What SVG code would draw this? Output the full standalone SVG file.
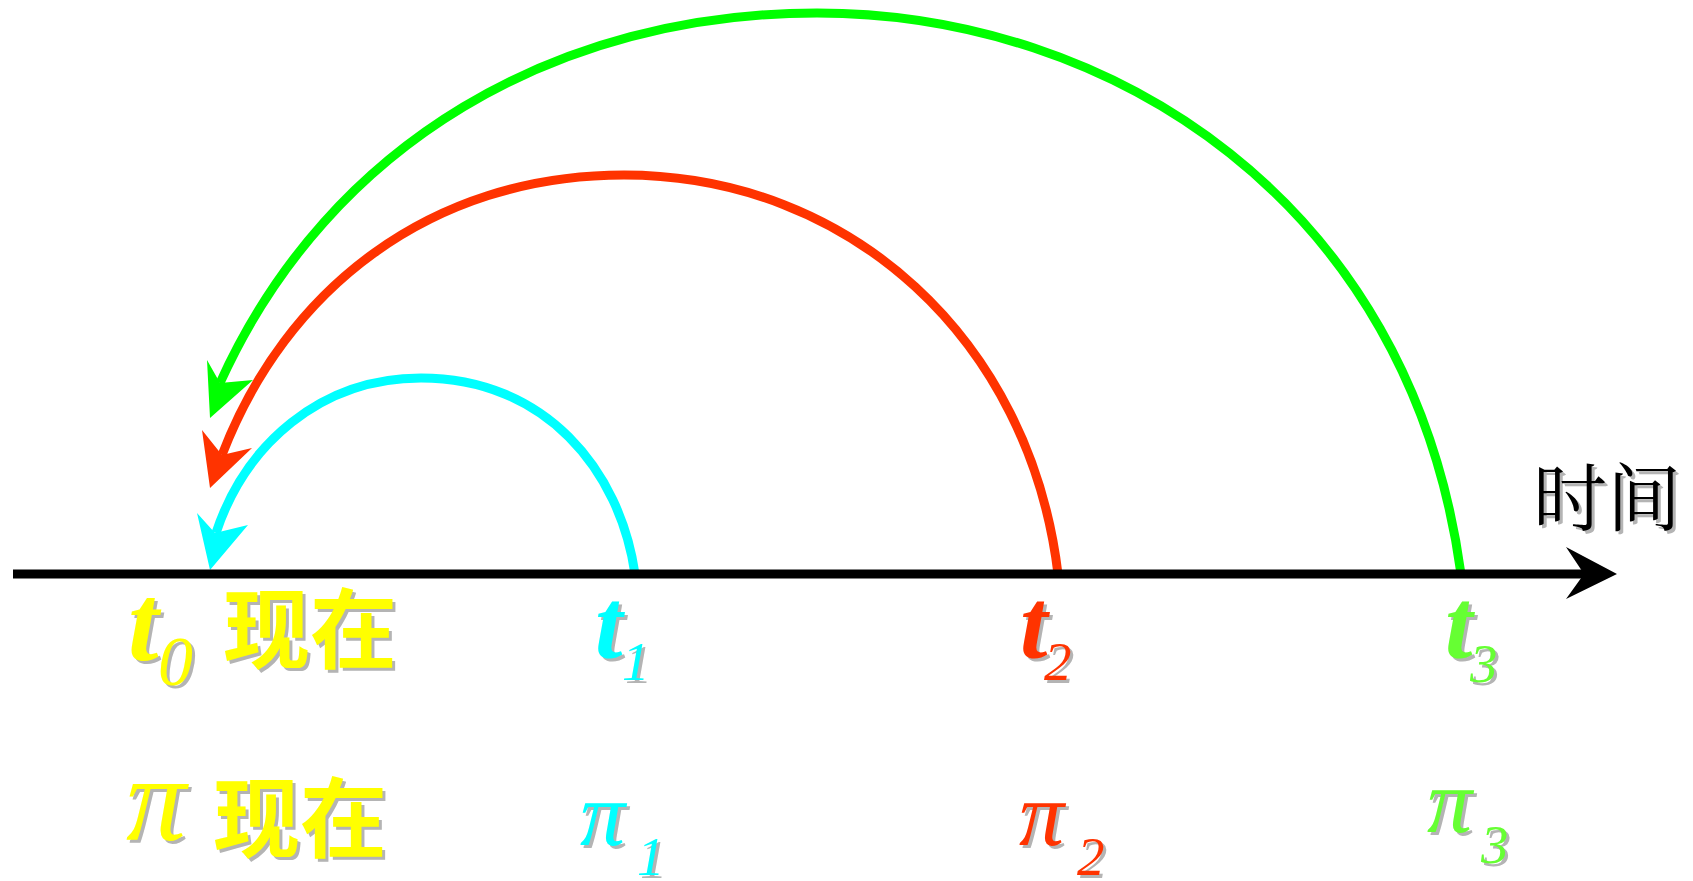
<svg xmlns="http://www.w3.org/2000/svg" width="1693" height="881" viewBox="0 0 1693 881">
<style>
.arc{fill:none;stroke-width:9}
.sh{fill:#b4b4b4}
.ti{font-family:"Liberation Serif",serif;font-style:italic;font-weight:bold}
.sub{font-family:"Liberation Serif",serif;font-style:italic}
.cjk{font-family:"Noto Sans CJK SC",sans-serif;font-weight:bold}
.tm{font-family:"Noto Serif CJK SC","Noto Sans CJK SC",serif}
</style>
<rect width="1693" height="881" fill="#fff"/>
<g id="connectors">
  <path class="arc" stroke="#00ff00" d="M1461 574 C1410 200 1110 13 817 13 C560 13 330 140 220 383"/>
  <polygon fill="#00ff00" points="210,418 207,360 220,383 253,380"/>
  <path class="arc" stroke="#ff3300" d="M1058 574 C1030 340 850 175 624 175 C430 175 285 290 222 455"/>
  <polygon fill="#ff3300" points="210,488 202,430 222,455 252,448"/>
  <path class="arc" stroke="#00ffff" d="M635 574 C620 470 545 378 421 378 C320 378 245 445 216 533"/>
  <polygon fill="#00ffff" points="210,570 197,513 215,533 248,525"/>
</g>
<g id="axis">
  <line x1="13" y1="574" x2="1585" y2="574" stroke="#000" stroke-width="9"/>
  <polygon fill="#000" points="1617,574 1566,547 1584,574 1566,599"/>
  <text class="tm sh" x="1536" y="528" font-size="74">时间</text>
  <text class="tm" x="1533" y="525" font-size="74" fill="#000">时间</text>
</g>
<g id="t0">
  <text class="ti sh" x="131" y="663" font-size="110">t</text>
  <text class="ti" x="128" y="660" font-size="110" fill="#ffff00">t</text>
  <text class="sub sh" x="161" y="688" font-size="70">0</text>
  <text class="sub" x="158" y="685" font-size="70" fill="#ffff00">0</text>
  <text class="cjk sh" x="226" y="665" font-size="87">现在</text>
  <text class="cjk" x="223" y="662" font-size="87" fill="#ffff00">现在</text>
</g>
<g id="t1">
  <text class="ti sh" x="598" y="661" font-size="99">t</text>
  <text class="ti" x="595" y="658" font-size="99" fill="#00ffff">t</text>
  <text class="sub sh" x="625" y="683" font-size="55">1</text>
  <text class="sub" x="622" y="680" font-size="55" fill="#00ffff">1</text>
</g>
<g id="t2">
  <text class="ti sh" x="1023" y="661" font-size="99">t</text>
  <text class="ti" x="1020" y="658" font-size="99" fill="#ff3300">t</text>
  <text class="sub sh" x="1047" y="683" font-size="55">2</text>
  <text class="sub" x="1044" y="680" font-size="55" fill="#ff3300">2</text>
</g>
<g id="t3">
  <text class="ti sh" x="1448" y="661" font-size="99">t</text>
  <text class="ti" x="1445" y="658" font-size="99" fill="#66ff33">t</text>
  <text class="sub sh" x="1473" y="685" font-size="55">3</text>
  <text class="sub" x="1470" y="682" font-size="55" fill="#66ff33">3</text>
</g>
<g id="pi0">
  <text class="sub sh" x="129" y="843" font-size="120">π</text>
  <text class="sub" x="126" y="840" font-size="120" fill="#ffff00">π</text>
  <text class="cjk sh" x="216" y="854" font-size="87">现在</text>
  <text class="cjk" x="213" y="851" font-size="87" fill="#ffff00">现在</text>
</g>
<g id="pi1">
  <text class="sub sh" x="583" y="848" font-size="90">π</text>
  <text class="sub" x="580" y="845" font-size="90" fill="#00ffff">π</text>
  <text class="sub sh" x="640" y="878" font-size="55">1</text>
  <text class="sub" x="637" y="875" font-size="55" fill="#00ffff">1</text>
</g>
<g id="pi2">
  <text class="sub sh" x="1022" y="848" font-size="90">π</text>
  <text class="sub" x="1019" y="845" font-size="90" fill="#ff3300">π</text>
  <text class="sub sh" x="1080" y="878" font-size="55">2</text>
  <text class="sub" x="1077" y="875" font-size="55" fill="#ff3300">2</text>
</g>
<g id="pi3">
  <text class="sub sh" x="1430" y="835" font-size="90">π</text>
  <text class="sub" x="1427" y="832" font-size="90" fill="#66ff33">π</text>
  <text class="sub sh" x="1484" y="866" font-size="55">3</text>
  <text class="sub" x="1481" y="863" font-size="55" fill="#66ff33">3</text>
</g>
</svg>
